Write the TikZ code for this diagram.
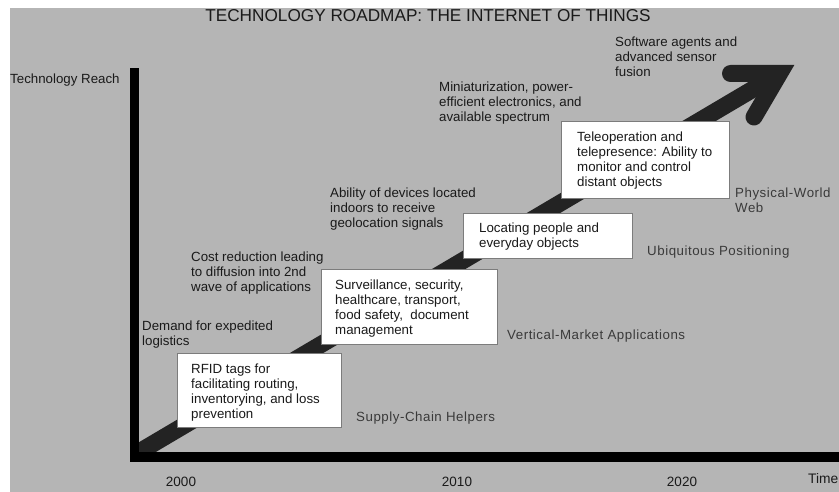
\documentclass[tikz,border=0pt]{standalone}
\usepackage{fontspec}
\setmainfont{Liberation Sans}
\definecolor{panel}{HTML}{B5B5B5}
\definecolor{ink}{HTML}{1A1A1A}
\definecolor{phasegray}{HTML}{3A3A3A}
\definecolor{shaft}{HTML}{232323}
\definecolor{cardedge}{HTML}{7C7C7C}
\begin{document}
\begin{tikzpicture}[x=1pt,y=-1pt,
  txt/.style={anchor=north west, inner sep=0pt, align=left, text=ink,
    font=\fontsize{13.3}{15}\selectfont},
  phase/.style={anchor=north west, inner sep=0pt, align=left, text=phasegray,
    font=\fontsize{13.3}{15}\selectfont\addfontfeature{LetterSpace=4}},
  card/.style={anchor=north west, draw=cardedge, fill=white, line width=1.1pt,
    inner sep=0pt},
  year/.style={anchor=north, inner sep=0pt, text=ink,
    font=\fontsize{13.5}{15}\selectfont},
  axisbar/.style={fill=black},
  trend/.style={draw=shaft, line width=17pt},
]
\useasboundingbox (0,0) rectangle (839,492);
\fill[panel] (10,8) rectangle (839,492);

% title
\node[anchor=north, inner sep=0pt, text=ink, font=\fontsize{17.2}{20}\selectfont]
  (title) at (428,9) {TECHNOLOGY ROADMAP: THE INTERNET OF THINGS};

% growth arrow: shaft and open head
\coordinate (corner) at (120,463.3);
\coordinate (vtx) at (779.5,73.5);
\coordinate (barbA) at (730.5,73.5);
\coordinate (barbB) at (754,117);
\begin{scope}
  \clip (139,0) rectangle (839,452);
  \draw[trend, line cap=butt] (corner) -- (vtx);
\end{scope}
\draw[trend, line cap=round, line join=miter] (barbA) -- (vtx) -- (barbB);

% axes
\fill[axisbar] (130,68) rectangle (139,462);
\fill[axisbar] (130,452) rectangle (839,462);
\node[txt] (yaxis) at (10,74) {Technology Reach};
\node[txt, font=\fontsize{13.8}{15}\selectfont] (xaxis) at (808,473) {Time};
\node[year] (y2000) at (181,477) {2000};
\node[year] (y2010) at (457,477) {2010};
\node[year] (y2020) at (682,477) {2020};

% application cards
\node[card, minimum width=164pt, minimum height=74pt] (rfid) at (177,353) {};
\node[txt] (rfidtxt) at (191,364) {RFID tags for\\facilitating routing,\\inventorying, and loss\\prevention};

\node[card, minimum width=176pt, minimum height=75pt] (vert) at (321,269) {};
\node[txt] (verttxt) at (335,280) {Surveillance, security,\\healthcare, transport,\\food safety,\ \ document\\management};

\node[card, minimum width=169pt, minimum height=45pt] (locate) at (463,213) {};
\node[txt] (locatetxt) at (479,223) {Locating people and\\everyday objects};

\node[card, minimum width=168pt, minimum height=77pt] (tele) at (561,121) {};
\node[txt] (teletxt) at (577,132) {Teleoperation and\\telepresence: Ability to\\monitor and control\\distant objects};

% drivers
\node[txt] (d1) at (142,321) {Demand for expedited\\logistics};
\node[txt] (d2) at (191,252) {Cost reduction leading\\to diffusion into 2nd\\wave of applications};
\node[txt] (d3) at (330,188) {Ability of devices located\\indoors to receive\\geolocation signals};
\node[txt] (d4) at (439,82) {Miniaturization, power-\\efficient electronics, and\\available spectrum};
\node[txt] (d5) at (615,37) {Software agents and\\advanced sensor\\fusion};

% phases
\node[phase] (p1) at (356,412) {Supply-Chain Helpers};
\node[phase] (p2) at (507,330) {Vertical-Market Applications};
\node[phase] (p3) at (647,246) {Ubiquitous Positioning};
\node[phase] (p4) at (735,188) {Physical-World\\Web};
\end{tikzpicture}
\end{document}
